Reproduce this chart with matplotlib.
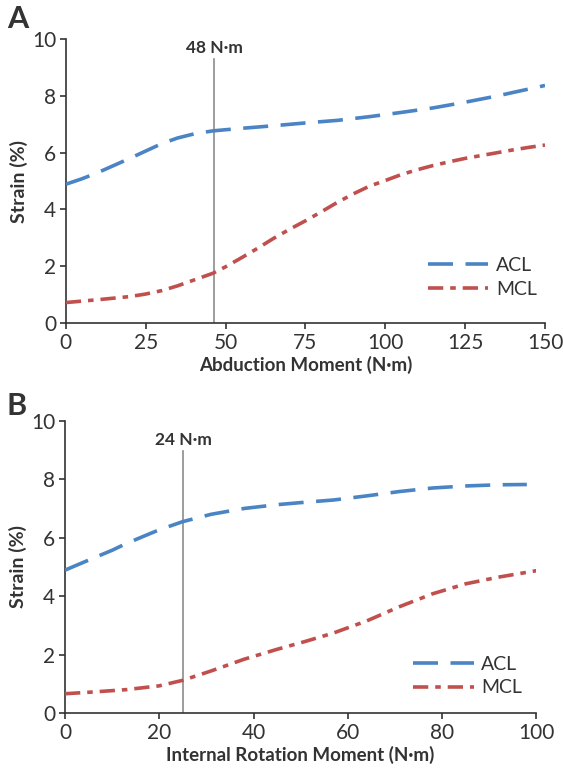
import matplotlib
matplotlib.use('Agg')
import matplotlib.pyplot as plt

plt.rcParams['font.family'] = ['Lato', 'DejaVu Sans']
plt.rcParams['lines.scale_dashes'] = False

# panel A: abduction moment
abd_x = [0, 5, 10, 15, 20, 25, 30, 35, 40, 46, 55, 65, 75, 85, 95, 105, 115, 125, 135, 150]
abd_acl = [4.89, 5.08, 5.3, 5.55, 5.8, 6.06, 6.32, 6.52, 6.66, 6.77, 6.86, 6.95, 7.05,
           7.14, 7.27, 7.42, 7.58, 7.78, 8.0, 8.37]
abd_mcl_x = [0, 10, 20, 25, 30, 35, 40, 46, 50, 55, 60, 65, 70, 75, 80, 85, 90, 95, 100,
             105, 110, 115, 120, 125, 130, 135, 140, 145, 150]
abd_mcl = [0.72, 0.82, 0.93, 1.02, 1.14, 1.31, 1.51, 1.75, 1.98, 2.3, 2.63, 2.98, 3.3, 3.6,
           3.92, 4.25, 4.55, 4.82, 5.02, 5.23, 5.4, 5.55, 5.68, 5.8, 5.9, 6.0, 6.1, 6.19, 6.27]
abd_mark = 46.4

# panel B: internal rotation moment
rot_x = [0, 6, 10, 13, 17, 20, 25, 31, 38, 45, 50, 57, 64, 71, 78, 85, 92, 98]
rot_acl = [4.89, 5.3, 5.57, 5.8, 6.07, 6.27, 6.55, 6.8, 7.0, 7.13, 7.2, 7.29, 7.43, 7.58,
           7.7, 7.77, 7.81, 7.82]
rot_mcl_x = [0, 6, 13, 20, 25, 31, 38, 45, 51, 57, 64, 71, 78, 85, 92, 100]
rot_mcl = [0.66, 0.72, 0.8, 0.93, 1.12, 1.44, 1.84, 2.18, 2.45, 2.74, 3.15, 3.64, 4.08,
           4.42, 4.65, 4.87]
rot_mark = 25.1

blue = '#4a84c4'
red = '#c0504d'
grey = '#333333'
acl_ls = (0, (18, 9))
mcl_ls = (0, (11, 5, 4, 5))

fig = plt.figure(figsize=(5.63, 7.69), dpi=100)
axA = fig.add_axes([0.117, 0.58, 0.851, 0.369])
axB = fig.add_axes([0.1155, 0.0728, 0.837, 0.38])

def style(ax, xmax, xticks, xlabel, mark, mtop, mlabel, legx, legy):
    for s in ['top', 'right']:
        ax.spines[s].set_visible(False)
    for s in ['left', 'bottom']:
        ax.spines[s].set_color(grey)
        ax.spines[s].set_linewidth(1.2)
    ax.set_xlim(0, xmax)
    ax.set_ylim(0, 10)
    ax.set_xticks(xticks)
    ax.set_yticks([0, 2, 4, 6, 8, 10])
    ax.tick_params(direction='out', length=4, width=1.2, color=grey,
                   labelsize=15, labelcolor=grey, pad=3)
    ax.set_xlabel(xlabel, fontsize=13.5, fontweight='bold', color=grey, labelpad=2)
    ax.set_ylabel('Strain (%)', fontsize=14, fontweight='bold', color=grey, labelpad=3)
    ax.plot([mark, mark], [0, mtop], color='#8c8c8c', lw=1.2, zorder=1)
    ax.text(mark, mtop + 0.12, mlabel, ha='center', va='bottom', fontsize=12.5,
            fontweight='bold', color=grey)
    leg = ax.legend(loc='center left', bbox_to_anchor=(legx, legy), frameon=False,
                    fontsize=14, handlelength=3.1, handletextpad=0.4, labelspacing=0.35,
                    borderpad=0, borderaxespad=0)
    for t in leg.get_texts():
        t.set_color(grey)

axA.plot(abd_x, abd_acl, color=blue, lw=2.6, ls=acl_ls, label='ACL', zorder=3)
axA.plot(abd_mcl_x, abd_mcl, color=red, lw=2.6, ls=mcl_ls, label='MCL', zorder=3)
style(axA, 150, [0, 25, 50, 75, 100, 125, 150], 'Abduction Moment (N·m)',
      abd_mark, 9.3, '48 N·m', 0.756, 0.16)

axB.plot(rot_x, rot_acl, color=blue, lw=2.6, ls=acl_ls, label='ACL', zorder=3)
axB.plot(rot_mcl_x, rot_mcl, color=red, lw=2.6, ls=mcl_ls, label='MCL', zorder=3)
style(axB, 100, [0, 20, 40, 60, 80, 100], 'Internal Rotation Moment (N·m)',
      rot_mark, 8.95, '24 N·m', 0.739, 0.127)

fig.text(0.012, 0.993, 'A', fontsize=22, fontweight='bold', color=grey, va='top')
fig.text(0.012, 0.49, 'B', fontsize=22, fontweight='bold', color=grey, va='top')

fig.savefig('out.png', dpi=100)
